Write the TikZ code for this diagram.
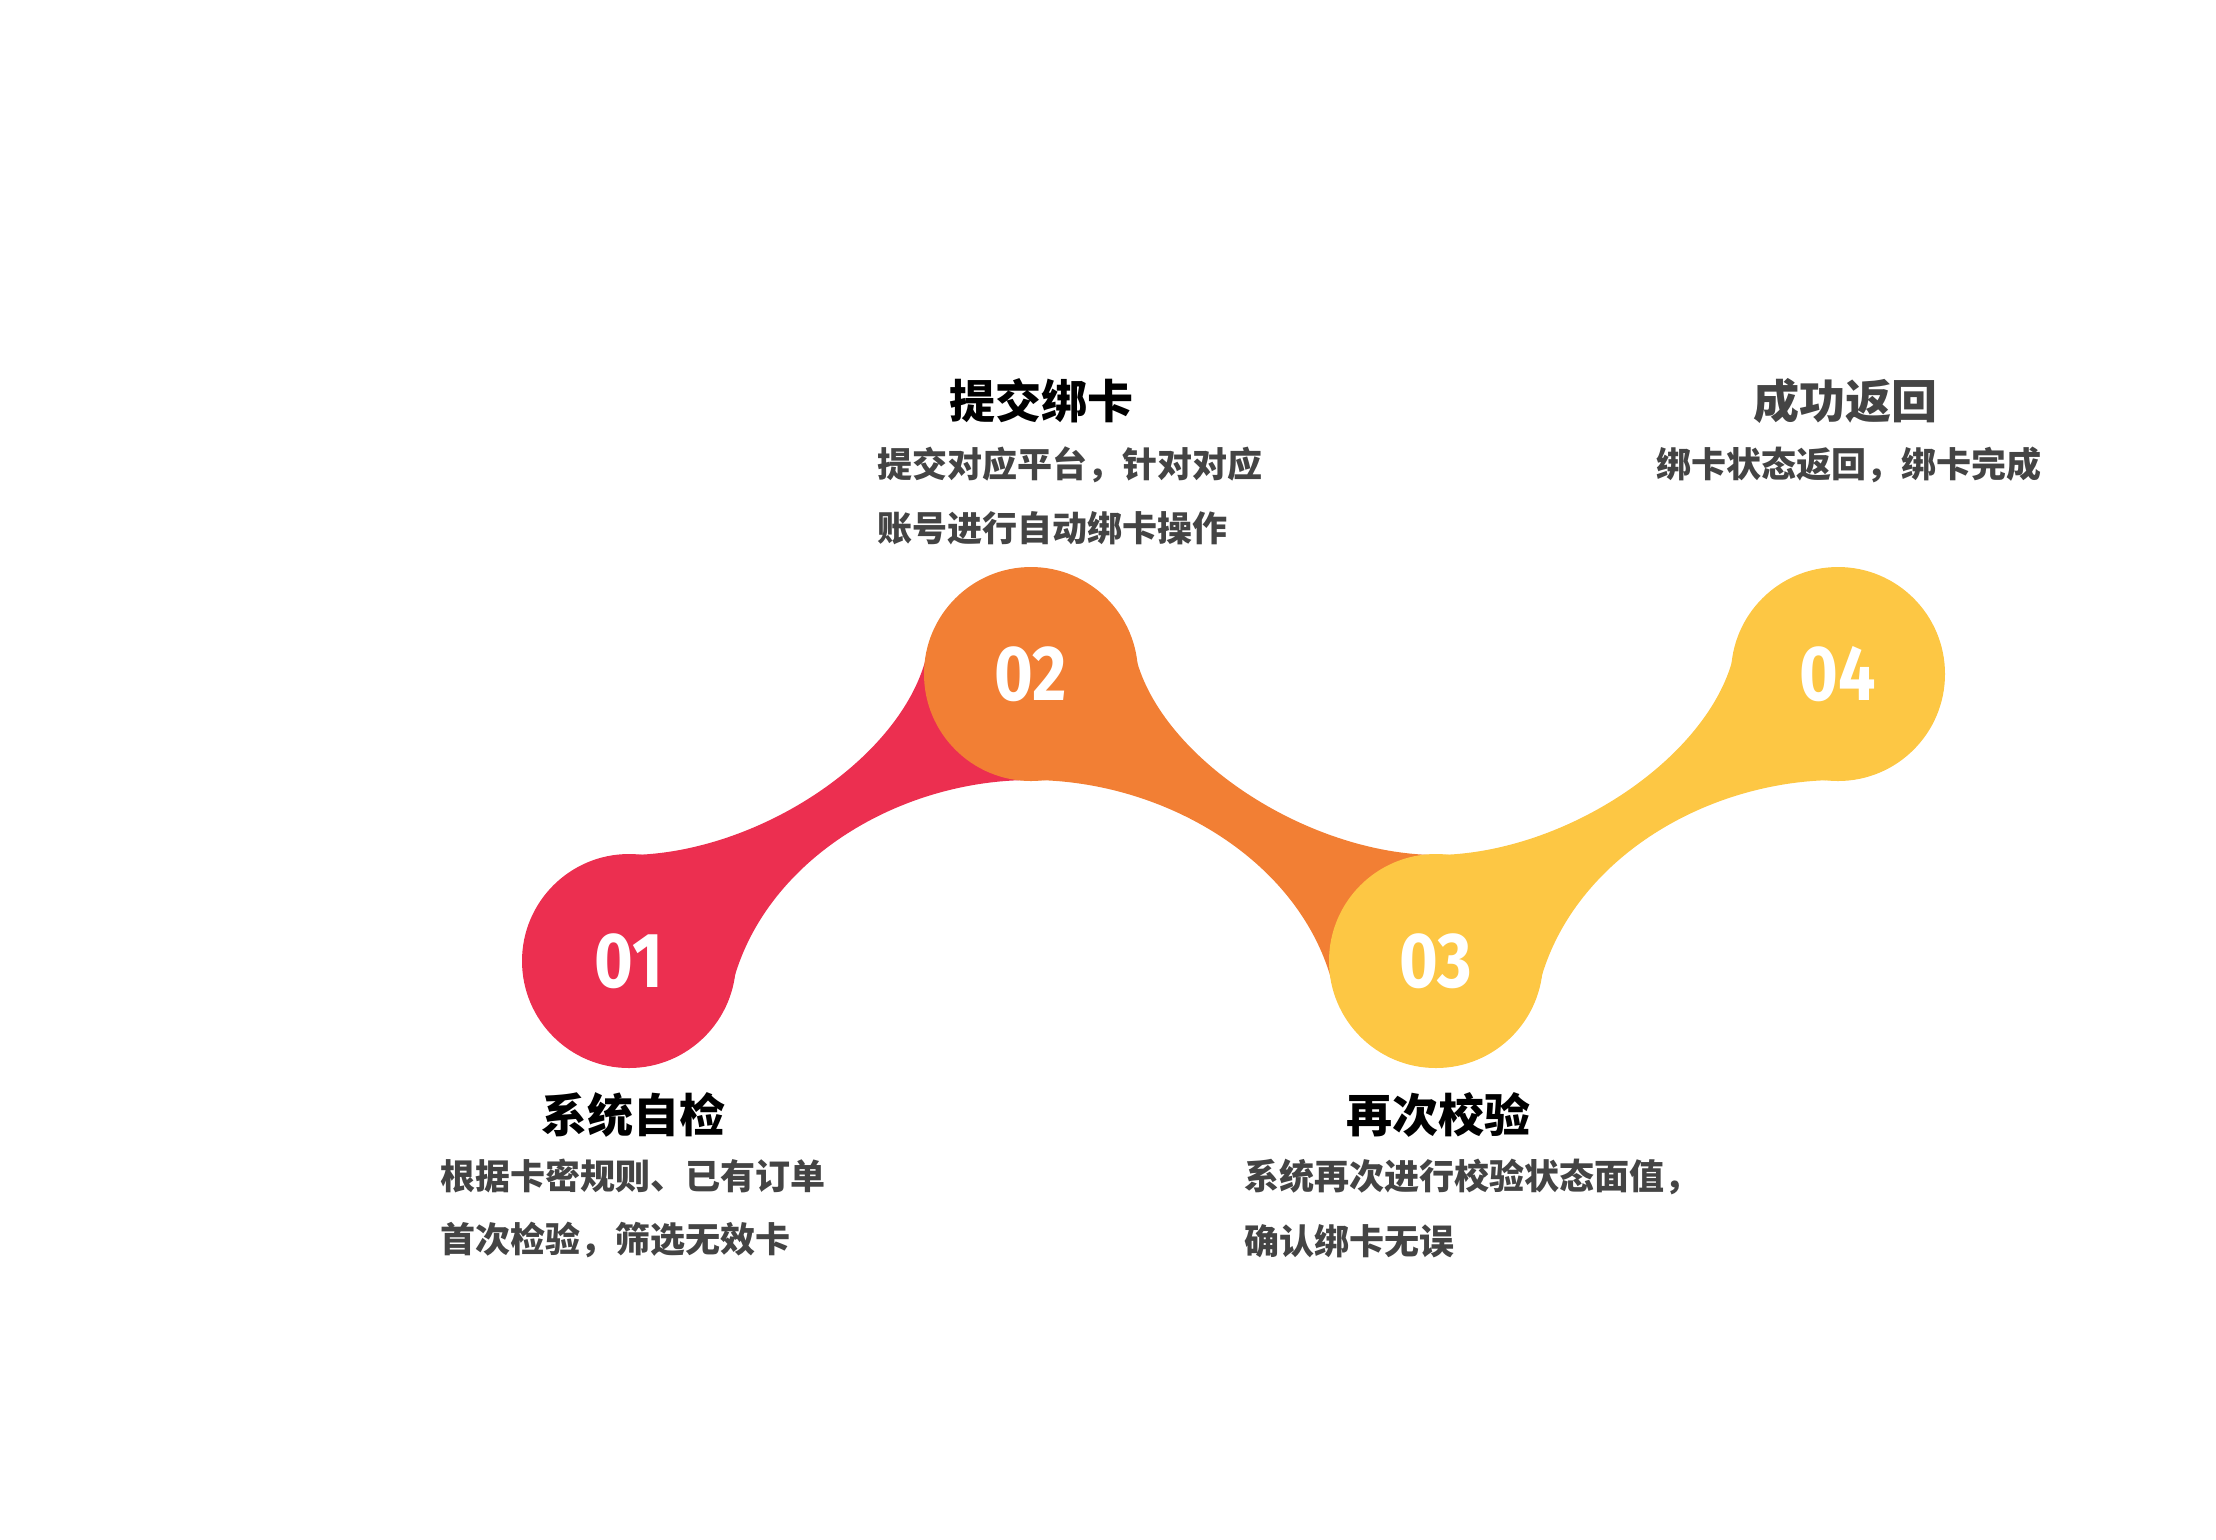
\documentclass[tikz,border=0pt]{standalone}
\usepackage{fontspec}
\setmainfont{Noto Sans CJK SC}
\newfontfamily\numfont{Fira Sans}
\usetikzlibrary{calc}
\definecolor{redA}{RGB}{236,47,80}
\definecolor{orangeA}{RGB}{242,127,52}
\definecolor{yellowA}{RGB}{253,199,68}
\definecolor{txtgray}{RGB}{68,68,68}
\newcommand{\stepno}[1]{\raisebox{-3pt}{\scalebox{.85}[1]{#1}}}
\begin{document}
\begin{tikzpicture}[x=.5pt,y=-.5pt,
  ball/.style={circle,inner sep=0pt,minimum size=107pt,text=white,
    font=\numfont\bfseries\fontsize{39}{39}\selectfont},
  title/.style={font=\bfseries\fontsize{23}{23}\selectfont},
  body/.style={anchor=west,inner sep=0pt,text=txtgray,font=\bfseries\fontsize{17.5}{17.5}\selectfont}]
\useasboundingbox (0,0) rectangle (2216,1539);
\coordinate (p1) at (629,961);
\coordinate (p2) at (1031,674);
\coordinate (p3) at (1436,961);
\coordinate (p4) at (1838,674);
% bands
\fill[redA] ($(p1)+(0,-106)$) .. controls ($(p1)+(128,-107)$) and ($(p2)+(-131,85)$) .. ($(p2)+(-105,-16)$)
  -- (p2) -- ($(p2)+(0,106)$) .. controls ($(p2)+(-133,106)$) and ($(p1)+(134,-100)$) .. ($(p1)+(103,25)$) -- (p1) -- cycle;
\fill[orangeA] ($(p2)+(105,-16)$) .. controls ($(p2)+(131,85)$) and ($(p3)+(-128,-107)$) .. ($(p3)+(0,-106)$)
  -- (p3) -- ($(p3)+(-103,25)$) .. controls ($(p3)+(-134,-100)$) and ($(p2)+(133,106)$) .. ($(p2)+(0,106)$) -- (p2) -- cycle;
\fill[yellowA] ($(p3)+(0,-106)$) .. controls ($(p3)+(128,-107)$) and ($(p4)+(-131,85)$) .. ($(p4)+(-105,-16)$)
  -- (p4) -- ($(p4)+(0,106)$) .. controls ($(p4)+(-133,106)$) and ($(p3)+(134,-100)$) .. ($(p3)+(103,25)$) -- (p3) -- cycle;
% circles
\node[ball,fill=redA] (c1) at (p1) {\stepno{01}};
\node[ball,fill=orangeA] (c2) at (p2) {\stepno{02}};
\node[ball,fill=yellowA] (c3) at (p3) {\stepno{03}};
\node[ball,fill=yellowA] (c4) at (p4) {\stepno{04}};
% texts
\node[title] (t1) at (633,1115) {系统自检};
\node[body] (d1a) at (440,1176) {根据卡密规则、已有订单};
\node[body] (d1b) at (440,1240) {首次检验，筛选无效卡};
\node[title] (t2) at (1041,401) {提交绑卡};
\node[body] (d2a) at (877,465) {提交对应平台，针对对应};
\node[body] (d2b) at (877,528) {账号进行自动绑卡操作};
\node[title] (t3) at (1438,1115) {再次校验};
\node[body] (d3a) at (1244,1177) {系统再次进行校验状态面值，};
\node[body] (d3b) at (1244,1241) {确认绑卡无误};
\node[title,text=txtgray] (t4) at (1845,401) {成功返回};
\node[body] (d4a) at (1656,465) {绑卡状态返回，绑卡完成};
\end{tikzpicture}
\end{document}
